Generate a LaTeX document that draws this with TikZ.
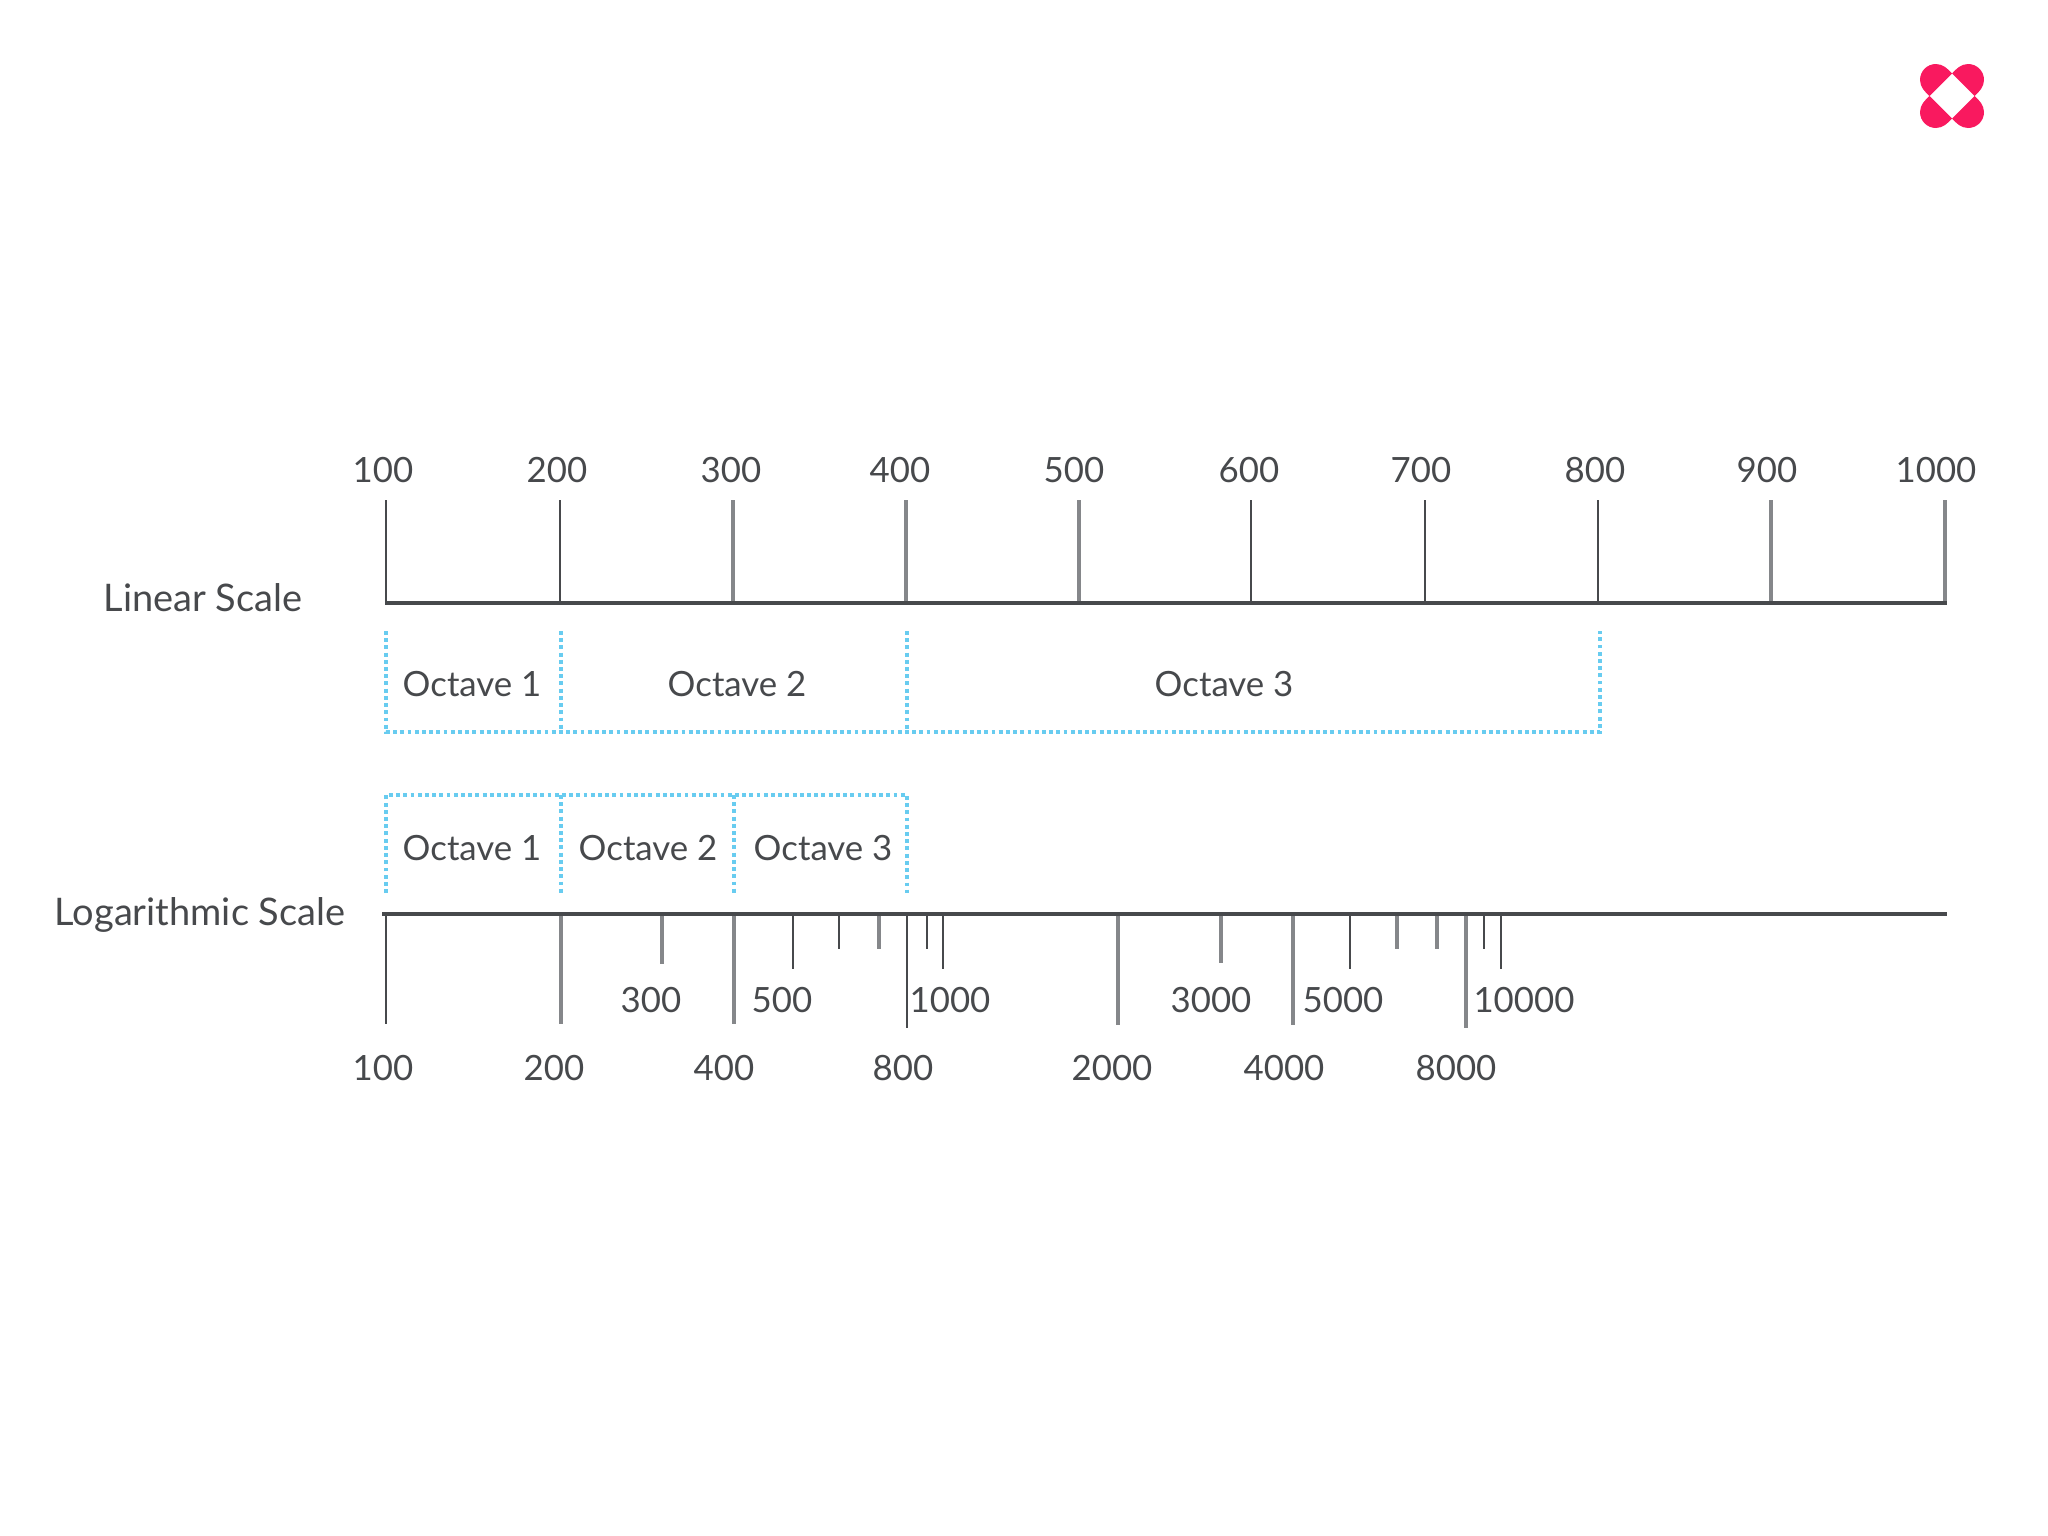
\documentclass[tikz,border=0pt]{standalone}
\usepackage{fontspec}
\setmainfont{Lato}
\definecolor{inkgrey}{HTML}{47494C}
\definecolor{tickgrey}{HTML}{85878A}
\definecolor{octblue}{HTML}{68CCF0}
\definecolor{logopink}{HTML}{F9195F}
\tikzset{
  scalelabel/.style={text=inkgrey,font=\fontsize{9.9}{12}\selectfont,inner sep=0pt},
  scalename/.style={text=inkgrey,font=\fontsize{10.8}{12}\selectfont,inner sep=0pt},
  axisline/.style={inkgrey,line width=1.2pt},
  tickdark/.style={inkgrey,line width=0.8pt},
  ticklight/.style={tickgrey,line width=0.9pt},
  octline/.style={octblue,line width=0.9pt,dash pattern=on 1.1pt off 0.95pt}
}
\begin{document}
\begin{tikzpicture}[x=0.01cm,y=-0.01cm]
  \useasboundingbox (0,0) rectangle (2048,1536);
  % linear scale
  \foreach \x/\val/\lx/\kind in {386/100/383/tickdark,560/200/557/tickdark,733/300/731/ticklight,906/400/900/ticklight,1079/500/1074/ticklight,1251/600/1249/tickdark,1425/700/1421/tickdark,1598/800/1595/tickdark,1771/900/1767/ticklight,1945/1000/1936/ticklight}{
    \draw[\kind] (\x,500) -- (\x,603);
    \node[scalelabel] (lin\val) at (\lx,470) {\val};
  }
  \draw[axisline] (385,603) -- (1947,603);
  \node[scalename] (linname) at (203,598) {Linear Scale};
  % linear octaves
  \draw[octline] (386,631) -- (386,732) -- (1600,732) -- (1600,631);
  \draw[octline] (561,631) -- (561,732);
  \draw[octline] (907,631) -- (907,732);
  \foreach \lx/\n in {472/1,737/2,1224/3}{
    \node[scalelabel] (linoct\n) at (\lx,684) {Octave \n};
  }
  % log octaves
  \draw[octline] (386,893) -- (386,795) -- (907,795) -- (907,893);
  \draw[octline] (561,795) -- (561,893);
  \draw[octline] (734,795) -- (734,893);
  \foreach \lx/\n in {472/1,648/2,823/3}{
    \node[scalelabel] (logoct\n) at (\lx,848) {Octave \n};
  }
  % log scale
  \foreach \x/\y/\kind in {386/1024/tickdark,561/1024/ticklight,734/1024/ticklight,907/1028/tickdark,
    662/964/ticklight,793/969/tickdark,839/949/tickdark,879/949/ticklight,927/949/tickdark,943/969/tickdark,
    1118/1025/ticklight,1221/963/ticklight,1293/1025/ticklight,1350/969/tickdark,1397/949/ticklight,1437/949/ticklight,1466/1028/ticklight,1484/949/tickdark,1501/969/tickdark}{
    \draw[\kind] (\x,914) -- (\x,\y);
  }
  \draw[axisline] (382,914) -- (1947,914);
  \node[scalename] (logname) at (200,915) {Logarithmic Scale};
  \foreach \lx/\val in {651/300,782/500,950/1000,1211/3000,1343/5000,1524/10000}{
    \node[scalelabel] (logup\val) at (\lx,1000) {\val};
  }
  \foreach \lx/\val in {383/100,554/200,724/400,903/800,1112/2000,1284/4000,1456/8000}{
    \node[scalelabel] (logdown\val) at (\lx,1068) {\val};
  }
  % logo
  \foreach \ang in {0,90,180,270}{
    \fill[logopink,shift={(1952,96)},rotate=\ang] (-22.5,0)
      .. controls (-27,-4) and (-32,-9) .. (-32,-16)
      .. controls (-32,-25) and (-25,-32) .. (-16,-32)
      .. controls (-9,-32) and (-4,-27) .. (0,-22.5) -- cycle;
  }
\end{tikzpicture}
\end{document}
